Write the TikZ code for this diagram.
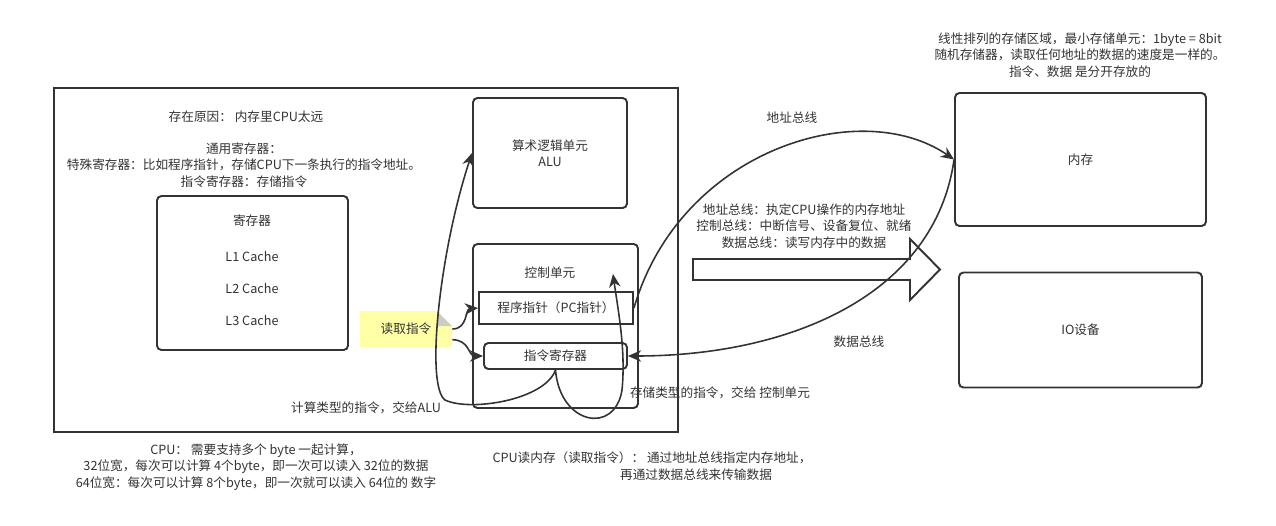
\documentclass[tikz,border=0pt]{standalone}
\usepackage{fontspec}
\newfontfamily\cjk{Noto Sans CJK SC}
\usetikzlibrary{arrows.meta}
\definecolor{ink}{HTML}{333333}
\definecolor{notefill}{HTML}{FFFFA6}
\definecolor{notefold}{HTML}{CCCCCC}

\begin{document}
\begin{tikzpicture}[x=0.02cm, y=-0.02cm,
            every node/.style={font=\cjk\fontsize{7.2}{9.4}\selectfont, text=ink, inner sep=0pt},
            box/.style={draw=ink, line width=1.1pt, rounded corners=2.5pt, align=center},
            sqbox/.style={draw=ink, line width=1.1pt, align=center},
            txt/.style={align=center},
            link/.style={draw=ink, line width=0.9pt, -{Stealth[length=7.5pt,width=6.5pt]}}
            ]
            \useasboundingbox (0,0) rectangle (1276,525);

            % CPU
            \node[sqbox, minimum width=12.48cm, minimum height=6.88cm] (cpu) at (366,260) {};
            \node[txt] (reason) at (246,117) {存在原因： 内存里CPU太远};
            \node[txt] (regtypes) at (244,165) {通用寄存器：\\特殊寄存器：比如程序指针，存储CPU下一条执行的指令地址。\\指令寄存器：存储指令};

            \node[box, minimum width=3.82cm, minimum height=3.08cm] (reg) at (252.5,273) {};
            \node (regname) at (252,221) {寄存器};
            \node (l1) at (252,257) {L1 Cache};
            \node (l2) at (252,289) {L2 Cache};
            \node (l3) at (252,321) {L3 Cache};

            \node[box, minimum width=3.08cm, minimum height=2.2cm] (alu) at (550,153) {算术逻辑单元\\ALU};
            \node[box, minimum width=3.3cm, minimum height=3.28cm] (ctrl) at (555.5,326) {};
            \node (ctrlname) at (550,273) {控制单元};
            \node[sqbox, minimum width=3.08cm, minimum height=0.64cm] (pc) at (556,308) {程序指针（PC指针）};
            \node[box, minimum width=2.86cm, minimum height=0.52cm] (ir) at (555.5,356) {指令寄存器};
            \coordinate (cutip) at (613,274);

            % note
            \fill[notefill] (360,311) -- (437,311) -- (452,326) -- (452,347) -- (360,347) -- cycle;
            \fill[notefold] (437,311) -- (452,326) -- (437,326) -- cycle;
            \node[minimum width=1.84cm, minimum height=0.72cm] (note) at (406,329) {读取指令};

            \draw[link] (note.east) .. controls (468,329) and (465,309) .. (pc.west);
            \draw[link] (note.-13) .. controls (470,340) and (468,356) .. (ir.west);
            \draw[link] (ir.south) .. controls (545,400) and (470,412) .. (445,400) .. controls (425,385) and (440,250) .. (alu.west);
            \draw[link] (ir.south) .. controls (560,425) and (615,435) .. (622,390) .. controls (626,350) and (618,310) .. (cutip);

            \node[txt] (toalu) at (366,408) {计算类型的指令，交给ALU};
            \node[txt] (toctrl) at (720,393) {存储类型的指令，交给 控制单元};
            \node[txt] (cpunote) at (256,467) {CPU： 需要支持多个 byte 一起计算，\\32位宽，每次可以计算 4个byte，即一次可以读入 32位的数据\\64位宽：每次可以计算 8个byte，即一次就可以读入 64位的 数字};
            \node[txt] (read1) at (652,458) {CPU读内存（读取指令）： 通过地址总线指定内存地址，};
            \node[txt] (read2) at (696,475) {再通过数据总线来传输数据};

            % memory and io
            \node[box, minimum width=5.02cm, minimum height=2.66cm] (mem) at (1080.5,159.5) {内存};
            \node[box, minimum width=4.86cm, minimum height=2.3cm] (io) at (1080.5,330) {IO设备};
            \node[txt] (memnote) at (1080,55) {线性排列的存储区域，最小存储单元：1byte = 8bit\\随机存储器，读取任何地址的数据的速度是一样的。\\指令、数据 是分开存放的};

            % buses
            \draw[link] (pc.east) .. controls (680,150) and (860,95) .. (mem.west);
            \draw[link] (mem.west) .. controls (935,295) and (790,356) .. (ir.east);
            \node[txt] (addrbus) at (792,118) {地址总线};
            \node[txt] (databus) at (859,342) {数据总线};
            \draw[ink, line width=1.1pt] (693,259) -- (910,259) -- (910,239) -- (940,269.5) -- (910,300) -- (910,280) -- (693,280) -- cycle;
            \node[txt] (buses) at (804,226) {地址总线：执定CPU操作的内存地址\\控制总线：中断信号、设备复位、就绪\\数据总线：读写内存中的数据};
\end{tikzpicture}
\end{document}
